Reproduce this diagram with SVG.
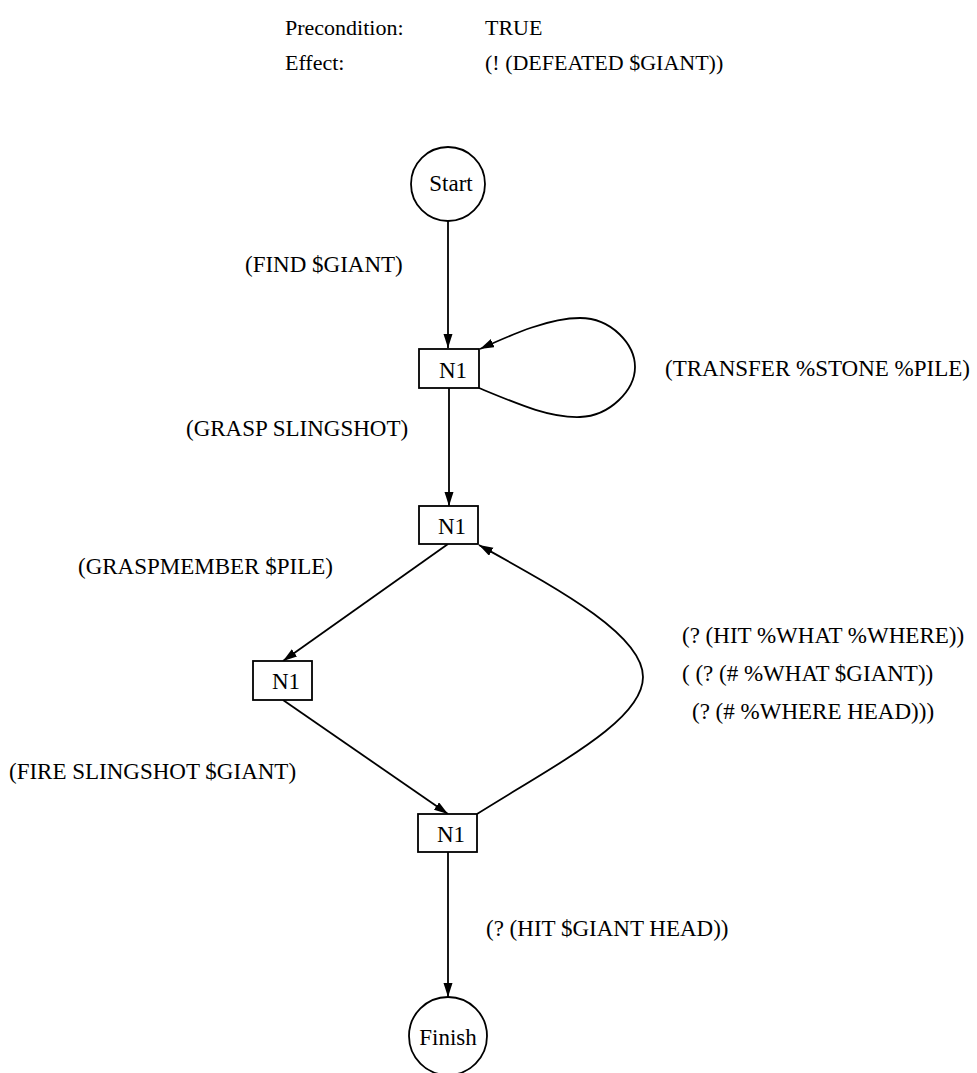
<svg xmlns="http://www.w3.org/2000/svg" width="977" height="1073" viewBox="0 0 977 1073">
<style>
text{font-family:"Liberation Serif","Times New Roman",serif;font-size:23px;fill:#000}
.hdr{font-size:22px}
.mid{text-anchor:middle}
.node{fill:#fff;stroke:#000;stroke-width:1.8}
.edge{fill:none;stroke:#000;stroke-width:1.8}
</style>
<defs>
<marker id="arr" markerUnits="userSpaceOnUse" markerWidth="15" markerHeight="10" refX="14" refY="4.5" orient="auto">
<path d="M0,0 L14,4.5 L0,9 z" fill="#000"/>
</marker>
</defs>
<rect width="977" height="1073" fill="#fff"/>
<g id="header">
<text class="hdr" x="285" y="35">Precondition:</text>
<text class="hdr" x="485" y="35">TRUE</text>
<text class="hdr" x="285" y="70">Effect:</text>
<text class="hdr" x="485" y="70">(! (DEFEATED $GIANT))</text>
</g>
<g id="connectors">
<line class="edge" x1="448" y1="221" x2="448" y2="348" marker-end="url(#arr)"/>
<path class="edge" d="M479,388 C520,405 550,418 580,417 C610,416 635,390 635,367 C635,345 612,318 580,318 C550,318 515,333 480,349" marker-end="url(#arr)"/>
<line class="edge" x1="449" y1="388" x2="449" y2="506" marker-end="url(#arr)"/>
<line class="edge" x1="448" y1="544" x2="283" y2="661" marker-end="url(#arr)"/>
<line class="edge" x1="283" y1="700" x2="448" y2="814" marker-end="url(#arr)"/>
<path class="edge" d="M477,814 C560,762 643,720 643,677 C643,635 560,590 479,545" marker-end="url(#arr)"/>
<line class="edge" x1="448" y1="852" x2="448" y2="997" marker-end="url(#arr)"/>
<text x="245" y="272">(FIND $GIANT)</text>
<text x="665" y="376">(TRANSFER %STONE %PILE)</text>
<text x="186" y="436">(GRASP SLINGSHOT)</text>
<text x="78" y="574">(GRASPMEMBER $PILE)</text>
<text x="682" y="643">(? (HIT %WHAT %WHERE))</text>
<text x="682" y="681">( (? (# %WHAT $GIANT))</text>
<text x="692" y="719">(? (# %WHERE HEAD)))</text>
<text x="9" y="779">(FIRE SLINGSHOT $GIANT)</text>
<text x="486" y="936">(? (HIT $GIANT HEAD))</text>
</g>
<g id="start">
<circle class="node" cx="448" cy="184" r="37"/>
<text class="mid" x="451" y="191">Start</text>
</g>
<g id="n1a">
<rect class="node" x="419" y="349" width="60" height="39"/>
<text class="mid" x="453" y="378">N1</text>
</g>
<g id="n1b">
<rect class="node" x="419" y="506" width="59" height="38"/>
<text class="mid" x="452" y="534">N1</text>
</g>
<g id="n1c">
<rect class="node" x="253" y="661" width="59" height="39"/>
<text class="mid" x="286" y="689">N1</text>
</g>
<g id="n1d">
<rect class="node" x="418" y="814" width="59" height="38"/>
<text class="mid" x="451" y="842">N1</text>
</g>
<g id="finish">
<circle class="node" cx="448" cy="1036" r="39"/>
<text class="mid" x="448" y="1045">Finish</text>
</g>
</svg>
